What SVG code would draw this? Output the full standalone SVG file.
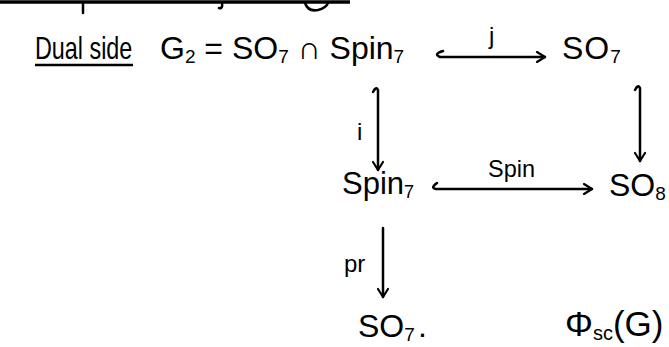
<svg xmlns="http://www.w3.org/2000/svg" width="669" height="347" viewBox="0 0 669 347">
<defs>
<style>
text{font-family:"Liberation Sans","DejaVu Sans",sans-serif;fill:#000;}
.t{font-size:32px;}
.s{font-size:19px;}
.lab{font-size:24px;}
.ln{stroke:#000;stroke-width:2.5;fill:none;stroke-linecap:round;stroke-linejoin:round;}
</style>
<marker id="ah" viewBox="0 0 12 12" refX="10" refY="6" markerWidth="12" markerHeight="12" markerUnits="userSpaceOnUse" orient="auto">
<path d="M2 1 L10 6 L2 11" fill="none" stroke="#000" stroke-width="2.2" stroke-linecap="round" stroke-linejoin="round"/>
</marker>
</defs>
<rect width="669" height="347" fill="#fff"/>
<g id="topfragments">
<line x1="0" y1="2" x2="350" y2="2" stroke="#000" stroke-width="3.5"/>
<path class="ln" d="M83 3 L83 13"/>
<path class="ln" d="M222 3 Q223 9 219 8"/>
<path class="ln" d="M305 3 Q308 12 318 10 Q326 8 328 3"/>
</g>
<g id="title">
<text class="t" transform="translate(35,59) scale(0.73,1)" x="0" y="0">Dual side</text>
<line x1="35" y1="65" x2="133" y2="65" stroke="#000" stroke-width="2.5"/>
</g>
<g id="node-G2">
<text class="t" x="160" y="59">G<tspan class="s" dy="4">2</tspan><tspan dy="-4"> = SO</tspan><tspan class="s" dy="4">7</tspan><tspan dy="-4"> ∩ Spin</tspan><tspan class="s" dy="4">7</tspan></text>
</g>
<g id="node-SO7-top">
<text class="t" x="562" y="59" letter-spacing="1">SO<tspan class="s" dy="4">7</tspan></text>
</g>
<g id="node-Spin7">
<text class="t" x="342" y="194" style="font-size:31px">Spin<tspan class="s" style="font-size:18px" dy="4">7</tspan></text>
</g>
<g id="node-SO8">
<text class="t" x="609" y="196">SO<tspan class="s" dy="4">8</tspan></text>
</g>
<g id="node-SO7-bottom">
<text class="t" x="358" y="337">SO<tspan class="s" dy="4">7</tspan></text>
<text class="t" x="418" y="337">.</text>
</g>
<g id="node-Phi">
<text class="t" x="565" y="336" style="font-size:35px">Φ<tspan class="s" style="font-size:20px" dy="4">sc</tspan><tspan dy="-4">(G)</tspan></text>
</g>
<g id="connectors">
<path class="ln" d="M443 51 Q433 54 440 57 L545 57" marker-end="url(#ah)"/>
<text class="lab" x="489" y="44">j</text>
<path class="ln" d="M373 92 Q376 86 378 90 L378 170" marker-end="url(#ah)"/>
<text class="lab" x="357" y="140">i</text>
<path class="ln" d="M635 90 Q638 84 640 88 L640 161" marker-end="url(#ah)"/>
<path class="ln" d="M437 183 Q430 188 436 189 L592 189" marker-end="url(#ah)"/>
<text class="lab" x="488" y="177" textLength="47" lengthAdjust="spacingAndGlyphs">Spin</text>
<path class="ln" d="M383 228 L383 297" marker-end="url(#ah)"/>
<text class="lab" x="344" y="272">pr</text>
</g>
</svg>
